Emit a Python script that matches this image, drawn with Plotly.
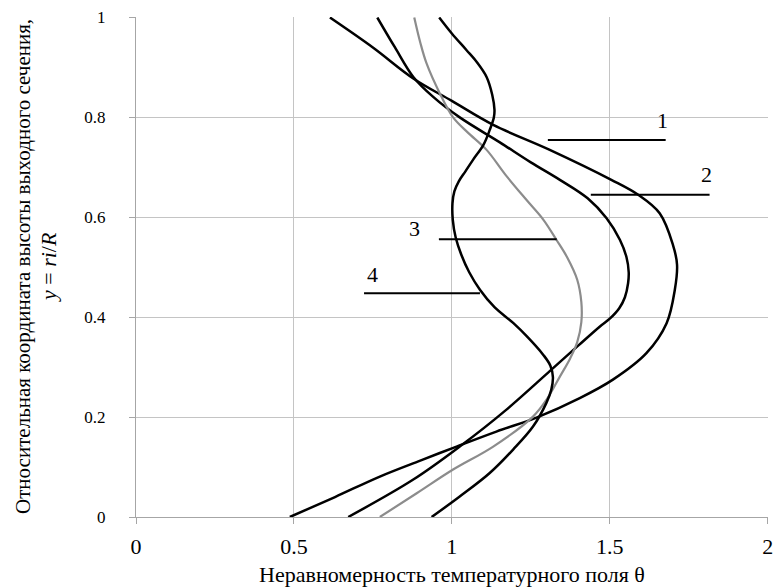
import plotly.graph_objects as go

# Curve data: theta (x) and relative height y
c1_theta = [0.487, 0.63, 0.772, 0.90, 1.015, 1.141, 1.268, 1.405, 1.51, 1.616, 1.68, 1.706, 1.713, 1.70, 1.658, 1.59, 1.505, 1.31, 1.131, 1.0, 0.878, 0.75, 0.614]
c1_y = [0.0, 0.04, 0.081, 0.113, 0.141, 0.171, 0.199, 0.238, 0.275, 0.328, 0.388, 0.455, 0.505, 0.545, 0.608, 0.645, 0.675, 0.735, 0.785, 0.833, 0.878, 0.94, 1.0]

c2_theta = [0.672, 0.878, 1.025, 1.173, 1.31, 1.40, 1.468, 1.50, 1.53, 1.548, 1.558, 1.56, 1.553, 1.532, 1.49, 1.43, 1.342, 1.25, 1.152, 1.025, 0.941, 0.878, 0.82, 0.764]
c2_y = [0.0, 0.075, 0.141, 0.215, 0.292, 0.343, 0.381, 0.397, 0.418, 0.44, 0.468, 0.49, 0.52, 0.555, 0.598, 0.638, 0.675, 0.71, 0.75, 0.80, 0.841, 0.881, 0.94, 1.0]

c3_theta = [0.772, 0.89, 1.004, 1.131, 1.257, 1.30, 1.342, 1.375, 1.397, 1.41, 1.41, 1.397, 1.365, 1.331, 1.29, 1.236, 1.17, 1.11, 1.05, 1.004, 0.962, 0.92, 0.90, 0.881]
c3_y = [0.0, 0.048, 0.095, 0.141, 0.201, 0.235, 0.281, 0.318, 0.35, 0.39, 0.43, 0.475, 0.52, 0.555, 0.595, 0.635, 0.685, 0.735, 0.77, 0.80, 0.848, 0.908, 0.95, 1.0]

c4_theta = [0.936, 1.025, 1.12, 1.194, 1.257, 1.299, 1.315, 1.32, 1.312, 1.289, 1.24, 1.195, 1.135, 1.089, 1.055, 1.03, 1.012, 1.003, 1.002, 1.008, 1.022, 1.043, 1.067, 1.10, 1.12, 1.133, 1.135, 1.128, 1.11, 1.08, 1.046, 1.0, 0.96]
c4_y = [0.0, 0.041, 0.088, 0.135, 0.181, 0.228, 0.255, 0.28, 0.303, 0.325, 0.36, 0.388, 0.42, 0.455, 0.49, 0.525, 0.56, 0.595, 0.628, 0.652, 0.672, 0.692, 0.715, 0.745, 0.775, 0.80, 0.815, 0.845, 0.881, 0.91, 0.935, 0.968, 1.0]

x_ticks = [0, 0.5, 1, 1.5, 2]
x_tick_labels = ["0", "0.5", "1", "1.5", "2"]
y_ticks = [0, 0.2, 0.4, 0.6, 0.8, 1]
y_tick_labels = ["0", "0.2", "0.4", "0.6", "0.8", "1"]

# Curve labels and leader lines (theta from, theta to, y)
label_texts = ["1", "2", "3", "4"]
label_x = [1.668, 1.806, 0.883, 0.748]
label_y = [0.793, 0.685, 0.577, 0.485]
leader_x0 = [1.304, 1.44, 0.959, 0.722]
leader_x1 = [1.677, 1.816, 1.332, 1.089]
leader_y = [0.755, 0.645, 0.556, 0.448]

x_title = "Неравномерность температурного поля θ"
y_title_lines = ["Относительная координата высоты выходного сечения,",
                 "<i>y</i> = <i>ri</i>/<i>R</i>"]

FONT = "Liberation Serif, Times New Roman, serif"

fig = go.Figure()
series = [
    (c1_theta, c1_y, "black", 2.5),
    (c2_theta, c2_y, "black", 2.5),
    (c3_theta, c3_y, "#8c8c8c", 2.2),
    (c4_theta, c4_y, "black", 2.5),
]
for xs, ys, col, w in series:
    fig.add_trace(go.Scatter(x=xs, y=ys, mode="lines",
                             line=dict(color=col, width=w, shape="spline", smoothing=1.0),
                             showlegend=False, hoverinfo="skip"))

for x0, x1, yy in zip(leader_x0, leader_x1, leader_y):
    fig.add_shape(type="line", x0=x0, x1=x1, y0=yy, y1=yy, xref="x", yref="y",
                  line=dict(color="black", width=2))

for t, xx, yy in zip(label_texts, label_x, label_y):
    fig.add_annotation(x=xx, y=yy, text=t, showarrow=False, xref="x", yref="y",
                       font=dict(family=FONT, size=22, color="black"))

# rotated two-line y-axis title
for txt, shift, size in zip(y_title_lines, [-113, -88], [21, 22]):
    fig.add_annotation(x=0, y=0.5, xref="paper", yref="paper", text=txt,
                       showarrow=False, textangle=-90, xanchor="center", yanchor="middle",
                       xshift=shift, font=dict(family=FONT, size=size, color="black"))

fig.update_layout(
    width=774, height=588,
    margin=dict(l=136, r=6, t=17, b=71, autoexpand=False),
    paper_bgcolor="white", plot_bgcolor="white",
    font=dict(family=FONT, color="black"),
)
fig.update_xaxes(
    range=[0, 2.001], tickvals=x_ticks, ticktext=x_tick_labels,
    automargin=False,
    showgrid=True, gridcolor="#c4c4c4", gridwidth=1,
    zeroline=False, showline=True, linecolor="#a6a6a6", linewidth=1,
    ticks="outside", ticklen=6, tickcolor="#a6a6a6",
    tickfont=dict(family=FONT, size=22, color="black"),
    ticklabelstandoff=4,
    title=dict(text=x_title, font=dict(family=FONT, size=22, color="black"), standoff=8),
)
fig.update_yaxes(
    range=[0, 1.001], tickvals=y_ticks, ticktext=y_tick_labels,
    automargin=False,
    showgrid=True, gridcolor="#c4c4c4", gridwidth=1,
    zeroline=False, showline=True, linecolor="#a6a6a6", linewidth=1,
    ticks="outside", ticklen=6, tickcolor="#a6a6a6",
    tickfont=dict(family=FONT, size=17, color="black"),
    ticklabelstandoff=20,
)

fig.write_html("out.html", config={"displayModeBar": False},
               post_script="document.body.style.margin='0';")
